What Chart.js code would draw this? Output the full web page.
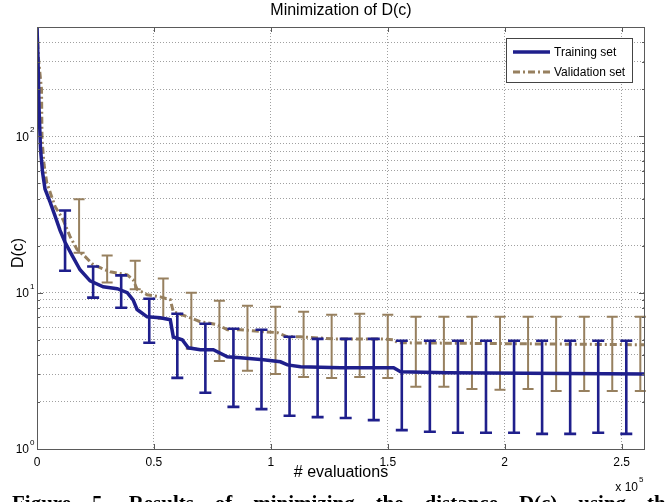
<!DOCTYPE html>
<html><head><meta charset="utf-8">
<script src="https://cdn.jsdelivr.net/npm/chart.js@4"></script>
<style>html,body{margin:0;padding:0;background:#fff;overflow:hidden}</style>
</head><body>
<canvas id="c" width="667" height="502" style="width:667px;height:502px;display:block"></canvas>
<script>
// ---------------- data ----------------
const titleText = "Minimization of D(c)";
const xLabel = "# evaluations";
const yLabel = "D(c)";
const xMultiplier = ["x 10", "5"];
const caption = "Figure 5. Results of minimizing the distance D(c) using the";
const seriesNames = ["Training set", "Validation set"];
const xTicks = [0, 50000, 100000, 150000, 200000, 250000];
const xTickLabels = ["0", "0.5", "1", "1.5", "2", "2.5"];
const yMajorTicks = [1, 10, 100];
const yMajorExp = ["0", "1", "2"];
const yGridTicks = [1,2,3,4,5,6,7,8,9,10,20,30,40,50,60,70,80,90,100,200,300,400,500];

const trainX = [0,430,860,1500,2360,3430,5570,7710,9850,12000,15000,18400,22700,28300,34300,38600,41100,42800,47100,52700,57000,58300,62100,64700,69800,75400,81400,87000,96800,104100,107100,112700,129800,152500,155500,175600,260000];
const trainY = [500,312,153,83,59,46,38,31,25,21,17.3,14.0,11.9,10.9,10.6,10.0,9.0,7.8,7.0,6.9,6.7,5.2,5.0,4.44,4.31,4.31,3.89,3.83,3.72,3.61,3.45,3.36,3.31,3.31,3.12,3.07,3.02];

const valX = [0,640,1930,2140,3000,4160,7710,11100,14100,17100,20600,24000,25700,31300,38600,41100,42800,47100,52700,57000,58300,64300,69800,77100,81400,87000,96800,102800,107100,112700,126800,146900,152500,154200,260000];
const valY = [500,312,200,95.7,66.2,50.7,35.6,29.4,22.9,18.9,17.0,15.1,14.7,13.6,13.0,12.1,10.5,9.7,9.4,9.0,7.55,7.02,6.52,6.24,5.80,5.80,5.63,5.55,5.22,5.22,5.06,5.06,5.0,4.78,4.64];

const trainErrX  = [12000,24000,36000,48000,60000,72000,84000,96000,108000,120000,132000,144000,156000,168000,180000,192000,204000,216000,228000,240000,252000];
const trainErrHi = [33.5,14.7,12.9,9.15,7.33,6.33,5.88,5.79,5.22,5.06,5.06,5.06,4.92,4.92,4.92,4.92,4.92,4.92,4.92,4.92,4.92];
const trainErrLo = [13.8,9.29,8.01,4.78,2.85,2.29,1.86,1.80,1.63,1.60,1.58,1.53,1.32,1.29,1.27,1.27,1.27,1.25,1.25,1.27,1.25];

const valErrX  = [18000,30000,42000,54000,66000,78000,90000,102000,114000,126000,138000,150000,162000,174000,186000,198000,210000,222000,234000,246000,258000];
const valErrHi = [39.5,17.3,16.0,12.3,10.0,8.89,8.25,8.12,7.55,7.22,7.33,7.22,7.02,7.02,7.02,7.02,7.02,7.02,7.02,7.02,7.02];
const valErrLo = [18.0,11.6,10.5,6.81,4.38,3.66,3.16,3.02,2.89,2.85,2.89,2.85,2.50,2.50,2.42,2.39,2.42,2.35,2.35,2.35,2.35];

// ---------------- styles ----------------
const BLUE = '#1f1f8c';
const TAN = '#97805f';
const FONT = '"Liberation Sans", Arial, sans-serif';
const VAL_DASH = [7, 3, 2, 3];

const toPts = (xs, ys) => xs.map((x, i) => ({x, y: ys[i]}));

const errorBars = {
  0: {x: valErrX, lo: valErrLo, hi: valErrHi, color: TAN, width: 2, cap: 5.5},
  1: {x: trainErrX, lo: trainErrLo, hi: trainErrHi, color: BLUE, width: 2.6, cap: 6}
};

const decor = {
  id: 'decor',
  afterDatasetDraw(chart, args) {
    const eb = errorBars[args.index];
    if (!eb) return;
    const {ctx, scales: {x, y}} = chart;
    ctx.save();
    ctx.strokeStyle = eb.color;
    ctx.lineWidth = eb.width;
    ctx.setLineDash([]);
    for (let i = 0; i < eb.x.length; i++) {
      const px = x.getPixelForValue(eb.x[i]);
      const ph = y.getPixelForValue(eb.hi[i]);
      const pl = y.getPixelForValue(eb.lo[i]);
      ctx.beginPath();
      ctx.moveTo(px, ph); ctx.lineTo(px, pl);
      ctx.moveTo(px - eb.cap, ph); ctx.lineTo(px + eb.cap, ph);
      ctx.moveTo(px - eb.cap, pl); ctx.lineTo(px + eb.cap, pl);
      ctx.stroke();
    }
    ctx.restore();
  },
  afterDraw(chart) {
    const {ctx, chartArea: a, scales: {x, y}} = chart;
    ctx.save();
    // frame
    ctx.strokeStyle = '#5a5a5a';
    ctx.lineWidth = 1;
    ctx.setLineDash([]);
    ctx.strokeRect(a.left + 0.5, a.top + 0.5, a.right - a.left - 1, a.bottom - a.top);
    // y ticks (inward, both sides)
    ctx.beginPath();
    yGridTicks.forEach(v => {
      const py = Math.round(y.getPixelForValue(v)) + 0.5;
      const len = yMajorTicks.includes(v) ? 6 : 3;
      ctx.moveTo(a.left, py); ctx.lineTo(a.left + len, py);
      ctx.moveTo(a.right, py); ctx.lineTo(a.right - len, py);
    });
    xTicks.forEach(v => {
      const px = Math.round(x.getPixelForValue(v)) + 0.5;
      ctx.moveTo(px, a.bottom); ctx.lineTo(px, a.bottom - 5);
      ctx.moveTo(px, a.top); ctx.lineTo(px, a.top + 5);
    });
    ctx.stroke();

    ctx.fillStyle = '#000';
    // x tick labels
    ctx.font = '12px ' + FONT;
    ctx.textAlign = 'center';
    ctx.textBaseline = 'middle';
    xTicks.forEach((v, i) => ctx.fillText(xTickLabels[i], x.getPixelForValue(v), a.bottom + 14));
    // y tick labels 10^n
    yMajorTicks.forEach((v, i) => {
      const py = y.getPixelForValue(v);
      ctx.font = '12px ' + FONT;
      ctx.textAlign = 'right';
      ctx.fillText('10', a.left - 8, py + 1);
      ctx.font = '8px ' + FONT;
      ctx.textAlign = 'left';
      ctx.fillText(yMajorExp[i], a.left - 7, py - 6);
    });
    // x multiplier
    ctx.font = '12px ' + FONT;
    ctx.textAlign = 'right';
    ctx.fillText(xMultiplier[0], a.right - 7, a.bottom + 39);
    ctx.font = '8px ' + FONT;
    ctx.textAlign = 'left';
    ctx.fillText(xMultiplier[1], a.right - 6, a.bottom + 31);

    // title & axis labels
    ctx.font = '16px ' + FONT;
    ctx.textAlign = 'center';
    ctx.fillText(titleText, (a.left + a.right) / 2, 11);
    ctx.fillText(xLabel, (a.left + a.right) / 2, a.bottom + 24);
    ctx.save();
    ctx.translate(19, (a.top + a.bottom) / 2 + 15);
    ctx.rotate(-Math.PI / 2);
    ctx.fillText(yLabel, 0, 0);
    ctx.restore();

    // legend
    const lx = 506, ly = 38, lw = 126, lh = 44;
    ctx.fillStyle = '#fff';
    ctx.fillRect(lx, ly, lw, lh);
    ctx.strokeStyle = '#444';
    ctx.lineWidth = 1;
    ctx.strokeRect(lx + 0.5, ly + 0.5, lw, lh);
    chart.data.datasets.slice().reverse().forEach((ds, i) => {
      const yy = ly + 14 + i * 20;
      ctx.strokeStyle = ds.borderColor;
      ctx.lineWidth = ds.borderWidth;
      ctx.setLineDash(ds.borderDash || []);
      ctx.beginPath();
      ctx.moveTo(lx + 7, yy); ctx.lineTo(lx + 44, yy);
      ctx.stroke();
      ctx.setLineDash([]);
      ctx.fillStyle = '#000';
      ctx.font = '12px ' + FONT;
      ctx.textAlign = 'left';
      ctx.textBaseline = 'middle';
      ctx.fillText(ds.label, lx + 48, yy + 1);
    });

    // caption (cut off at bottom)
    ctx.font = 'bold 21px "Liberation Serif", "Times New Roman", serif';
    ctx.fillStyle = '#000';
    ctx.textAlign = 'left';
    ctx.textBaseline = 'alphabetic';
    const words = caption.split(' ');
    const target = 663;
    const widths = words.map(w => ctx.measureText(w).width);
    const gap = (target - widths.reduce((s, w) => s + w, 0)) / (words.length - 1);
    let cx = 12;
    words.forEach((w, i) => { ctx.fillText(w, cx, 510); cx += widths[i] + gap; });
    ctx.restore();
  }
};

const gridStyle = {color: '#a0a0a0', lineWidth: 1, drawTicks: false};

new Chart(document.getElementById('c'), {
  type: 'scatter',
  data: {
    datasets: [
      {label: seriesNames[1], data: toPts(valX, valY), showLine: true, borderColor: TAN,
       borderWidth: 3, borderDash: VAL_DASH, pointRadius: 0, order: 2, tension: 0},
      {label: seriesNames[0], data: toPts(trainX, trainY), showLine: true, borderColor: BLUE,
       borderWidth: 3.5, pointRadius: 0, order: 1, tension: 0}
    ]
  },
  options: {
    responsive: false,
    animation: false,
    devicePixelRatio: 1,
    layout: {padding: {left: 37, right: 22, top: 27, bottom: 53}},
    plugins: {legend: {display: false}, tooltip: {enabled: false}, title: {display: false}},
    scales: {
      x: {
        type: 'linear', min: 0, max: 260000,
        ticks: {display: false},
        grid: gridStyle,
        border: {display: false, dash: [1, 2]},
        afterBuildTicks: s => { s.ticks = xTicks.map(v => ({value: v})); }
      },
      y: {
        type: 'logarithmic', min: 1, max: 500,
        ticks: {display: false},
        grid: gridStyle,
        border: {display: false, dash: [1, 2]},
        afterBuildTicks: s => { s.ticks = yGridTicks.map(v => ({value: v})); }
      }
    }
  },
  plugins: [decor]
});
</script>
</body></html>
